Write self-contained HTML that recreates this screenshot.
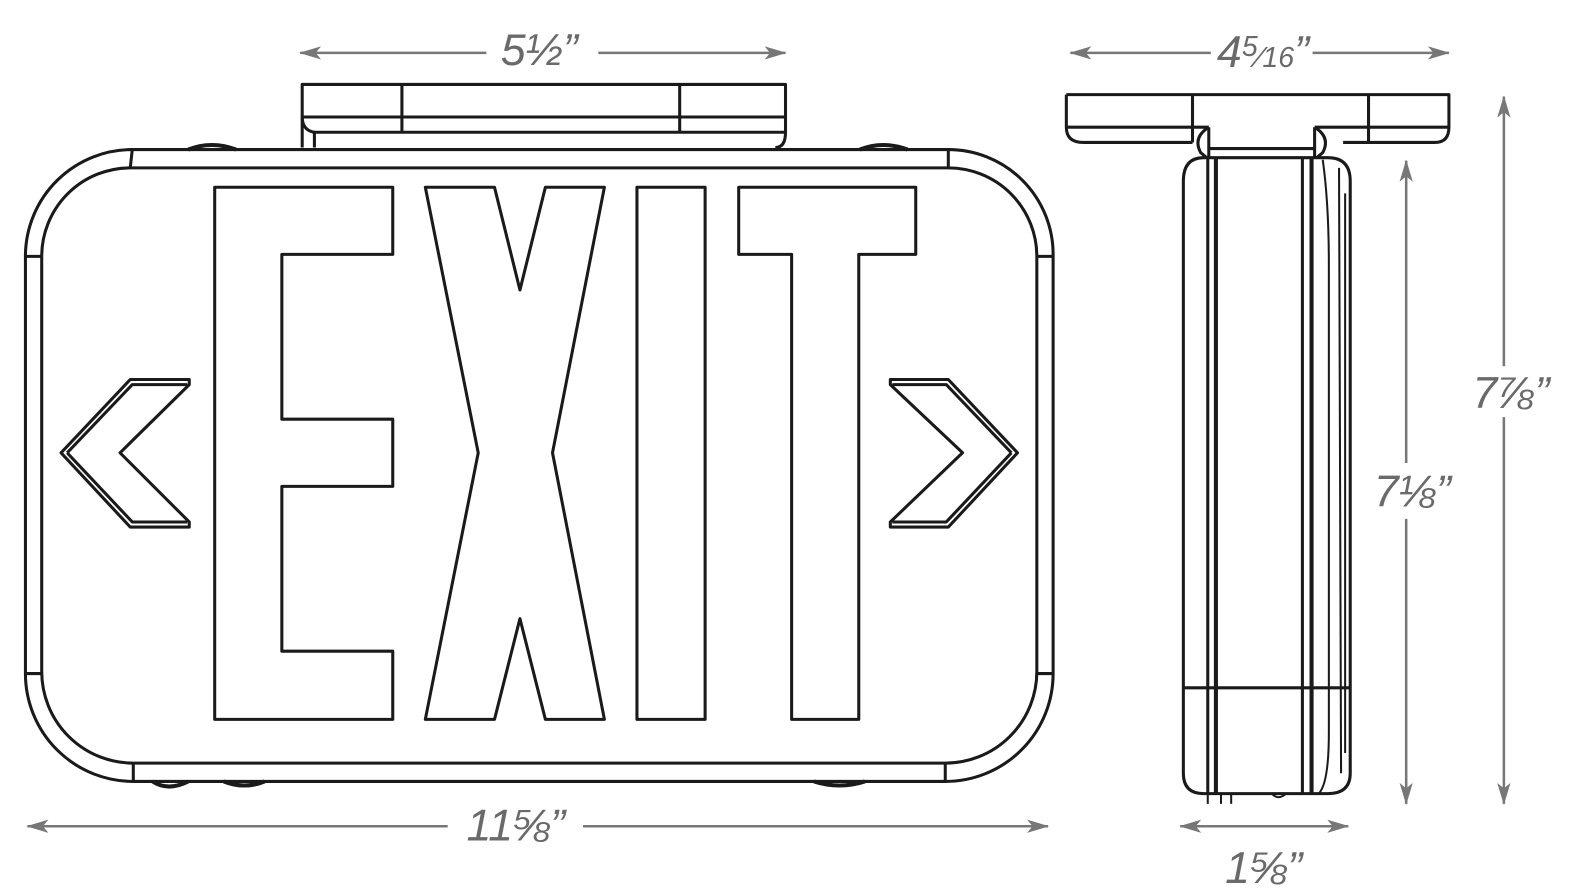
<!DOCTYPE html>
<html><head><meta charset="utf-8"><style>
html,body{margin:0;padding:0;background:#fff}
svg{display:block}
text{font-family:"Liberation Sans","DejaVu Sans",sans-serif;font-style:italic;fill:#6a6a6a;font-size:44px}
</style></head><body>
<svg width="1596" height="894" viewBox="0 0 1596 894" xmlns="http://www.w3.org/2000/svg">
<defs>
<marker id="ah" viewBox="0 0 20 12" refX="19" refY="6" markerWidth="22" markerHeight="13" markerUnits="userSpaceOnUse" orient="auto-start-reverse">
<path d="M0,0 L20,6 L0,12 L5,6 Z" fill="#777"/>
</marker>
</defs>
<g transform="scale(1.0175)">
<g fill="none" stroke="#1a1a1a" stroke-width="3" stroke-linejoin="round">
<path d="M297,145 L297,83 L772,83 L772,130 Q772,145 762,145"/>
<line x1="297" y1="115" x2="772" y2="115"/>
<line x1="307" y1="130" x2="772" y2="130"/>
<path d="M297,115 Q297,128 309,130 L309,145"/>
<line x1="395" y1="83" x2="395" y2="130"/>
<line x1="668" y1="83" x2="668" y2="130"/>
<path d="M185,147 Q208,138 232,147" stroke-width="4"/>
<path d="M845,147 Q868,138 892,147" stroke-width="4"/>
<path d="M150,768 Q165,778 185,768" stroke-width="4"/>
<path d="M220,768 Q240,776 260,768" stroke-width="4"/>
<path d="M800,768 Q825,776 850,768" stroke-width="4"/>
<path d="M130,147 L932,147 A103,103 0 0 1 1035,250 L1035,662 A106,106 0 0 1 929,768 L131,768 A106,106 0 0 1 25,662 L25,250 A105,105 0 0 1 130,147 Z"/>
<path d="M128,165 L932,165 A87,87 0 0 1 1019,252 L1019,660 A90,90 0 0 1 929,750 L131,750 A90,90 0 0 1 41,660 L41,252 A87,87 0 0 1 128,165"/>
<line x1="130" y1="147" x2="128" y2="165"/>
<line x1="932" y1="147" x2="932" y2="165"/>
<line x1="25" y1="252" x2="41" y2="252"/>
<line x1="1019" y1="252" x2="1035" y2="252"/>
<line x1="25" y1="662" x2="41" y2="662"/>
<line x1="1019" y1="662" x2="1035" y2="662"/>
<line x1="131" y1="750" x2="131" y2="768"/>
<line x1="929" y1="750" x2="929" y2="768"/>
<path d="M211,184 L386,184 L386,250 L277,250 L277,412 L386,412 L386,478 L277,478 L277,640 L386,640 L386,707 L211,707 Z"/>
<path d="M418,184 L486,184 L511,285 L536,184 L594,184 L543,445 L594,707 L536,707 L511,608 L486,707 L418,707 L470,445 Z"/>
<path d="M626,184 L693,184 L693,707 L626,707 Z"/>
<path d="M726,184 L900,184 L900,250 L844,250 L844,707 L778,707 L778,250 L726,250 Z"/>
<path d="M60,445 L128,373 L186,373 L186,378 L118,445 L186,513 L186,518 L128,518 Z"/>
<path d="M66,445 L130,378 L184,378"/>
<path d="M66,445 L130,513 L184,513"/>
<path d="M1000,445 L932,373 L875,373 L875,378 L946,445 L875,513 L875,518 L932,518 Z"/>
<path d="M994,445 L930,378 L877,378"/>
<path d="M994,445 L930,513 L877,513"/>
<path d="M1048,93 L1424,93 L1424,125 Q1424,140 1410,140 L1320,140"/>
<path d="M1048,93 L1048,125 Q1048,140 1065,140 L1172,140"/>
<line x1="1048" y1="125" x2="1188" y2="125"/>
<line x1="1292" y1="125" x2="1424" y2="125"/>
<line x1="1172" y1="93" x2="1172" y2="140"/>
<line x1="1345" y1="93" x2="1345" y2="140"/>
<path d="M1188,125 L1188,155 M1292,125 L1292,155"/>
<path d="M1188,125 Q1172,135 1180,150 L1186,155"/>
<path d="M1292,125 Q1308,135 1300,150 L1294,155"/>
<line x1="1188" y1="146" x2="1292" y2="146"/>
<path d="M1183,155 L1305,155 Q1327,155 1327,178 L1327,760 Q1327,780 1305,780 L1183,780 Q1163,780 1163,760 L1163,178 Q1163,155 1183,155 Z"/>
<line x1="1187" y1="155" x2="1187" y2="780"/>
<line x1="1195" y1="155" x2="1195" y2="780" stroke-width="4"/>
<line x1="1280" y1="155" x2="1280" y2="780"/>
<line x1="1289" y1="155" x2="1289" y2="780" stroke-width="4"/>
<path d="M1300,157 Q1306,200 1306,260 L1306,720 Q1306,770 1296,780" stroke-width="2"/>
<path d="M1316,165 L1318,760" stroke-width="2"/>
<line x1="1322" y1="190" x2="1322" y2="740" stroke-width="2"/>
<line x1="1163" y1="676" x2="1327" y2="676"/>
<path d="M1187,780 L1187,790 M1200,780 L1200,790 M1210,780 L1210,790 M1250,780 Q1256,787 1264,780" stroke-width="2"/>
</g>
<g stroke="#777" stroke-width="2.5" fill="none">
<line x1="295" y1="52" x2="478" y2="52" marker-start="url(#ah)"/>
<line x1="588" y1="52" x2="772" y2="52" marker-end="url(#ah)"/>
<line x1="27" y1="812" x2="440" y2="812" marker-start="url(#ah)"/>
<line x1="573" y1="812" x2="1030" y2="812" marker-end="url(#ah)"/>
<line x1="1052" y1="52" x2="1190" y2="52" marker-start="url(#ah)"/>
<line x1="1290" y1="52" x2="1424" y2="52" marker-end="url(#ah)"/>
<line x1="1478" y1="95" x2="1478" y2="360" marker-start="url(#ah)"/>
<line x1="1478" y1="410" x2="1478" y2="790" marker-end="url(#ah)"/>
<line x1="1382" y1="158" x2="1382" y2="455" marker-start="url(#ah)"/>
<line x1="1382" y1="510" x2="1382" y2="790" marker-end="url(#ah)"/>
<line x1="1160" y1="812" x2="1325" y2="812" marker-start="url(#ah)" marker-end="url(#ah)"/>
</g>
<text x="530" y="64" text-anchor="middle">5½”</text>
<text x="507" y="826" text-anchor="middle">11⅝”</text>
<text x="1196" y="66">4<tspan font-size="28" dy="-11">5</tspan><tspan font-size="28" dy="11">⁄16</tspan>”</text>
<text x="1485" y="401" text-anchor="middle">7⅞”</text>
<text x="1388" y="498" text-anchor="middle">7⅛”</text>
<text x="1242" y="868" text-anchor="middle">1⅝”</text>
</g>
</svg>
</body></html>
